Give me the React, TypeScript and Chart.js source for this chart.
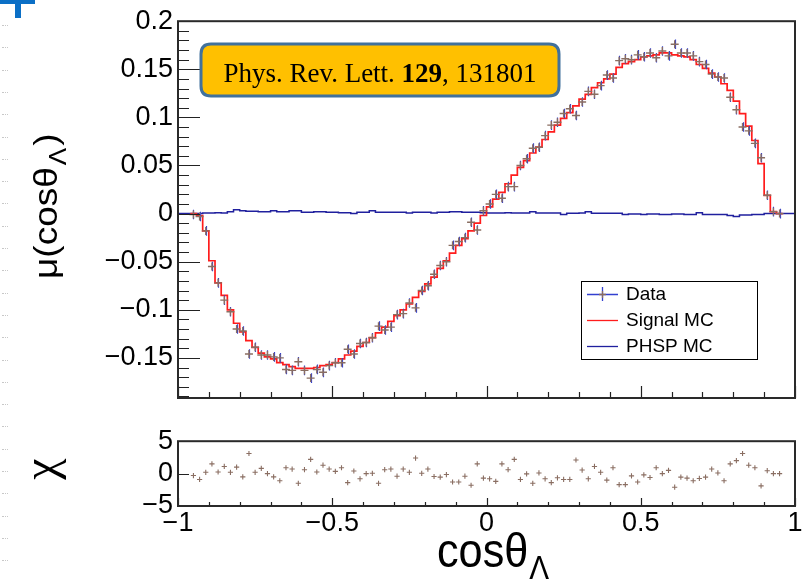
import React, { useEffect, useRef } from 'react';
import { Chart, registerables } from 'chart.js';

Chart.register(...registerables);

const FONT = '"Liberation Sans", Arial, Helvetica, sans-serif';
const SERIF = '"Liberation Serif", "Times New Roman", serif';

// ---- binning (histogram definition) ----
const muBinStart = -0.96; // data / signal MC / chi: 96 bins of 0.02
const phspBinStart = -1.0; // PHSP MC: 100 bins of 0.02
const binWidth = 0.02;

// ---- series values ----
const dataMu = [
  -0.001, -0.003, -0.018, -0.055, -0.072, -0.09, -0.102, -0.12, -0.122, -0.146,
  -0.139, -0.147, -0.147, -0.149, -0.15, -0.162, -0.163, -0.154, -0.163, -0.171,
  -0.162, -0.165, -0.158, -0.155, -0.155, -0.141, -0.146, -0.135, -0.134, -0.129,
  -0.117, -0.121, -0.118, -0.105, -0.104, -0.093, -0.098, -0.08, -0.075, -0.063,
  -0.054, -0.05, -0.033, -0.029, -0.025, -0.009, -0.017, 0.003, 0.01, 0.02,
  0.016, 0.028, 0.028, 0.05, 0.057, 0.068, 0.069, 0.081, 0.092, 0.095,
  0.104, 0.109, 0.102, 0.116, 0.127, 0.124, 0.133, 0.144, 0.141, 0.159,
  0.161, 0.16, 0.165, 0.163, 0.167, 0.162, 0.169, 0.164, 0.176, 0.167,
  0.167, 0.164, 0.158, 0.155, 0.145, 0.142, 0.141, 0.121, 0.108, 0.09,
  0.086, 0.073, 0.058, 0.019, 0.002, 0.0,
];
const dataErr = 0.005;

const signalMC = [
  0.0, -0.002, -0.018, -0.049, -0.072, -0.085, -0.1, -0.114, -0.123, -0.132,
  -0.139, -0.145, -0.149, -0.151, -0.155, -0.157, -0.159, -0.161, -0.161, -0.161,
  -0.16, -0.158, -0.157, -0.155, -0.151, -0.147, -0.143, -0.138, -0.134, -0.129,
  -0.124, -0.118, -0.112, -0.106, -0.1, -0.094, -0.087, -0.081, -0.073, -0.066,
  -0.057, -0.049, -0.041, -0.033, -0.026, -0.018, -0.01, -0.002, 0.007, 0.015,
  0.022, 0.031, 0.04, 0.048, 0.055, 0.063, 0.069, 0.077, 0.085, 0.092,
  0.099, 0.105, 0.112, 0.119, 0.124, 0.131, 0.136, 0.14, 0.145, 0.152,
  0.156, 0.158, 0.16, 0.163, 0.164, 0.165, 0.167, 0.167, 0.165, 0.164,
  0.163, 0.16, 0.155, 0.151, 0.146, 0.142, 0.135, 0.128, 0.117, 0.104,
  0.091, 0.076, 0.052, 0.019, 0.002, 0.0,
];

const phspMC = [
  0, 0, 0, 0, 0.0005, 0.0005, 0.001, 0.0005, 0.002, 0.004,
  0.003, 0.0025, 0.0025, 0.002, 0.002, 0.003, 0.002, 0.002, 0.003, 0.003,
  0.0015, 0.0015, 0.002, 0.002, 0.0015, 0.0015, 0.001, 0.001, 0.0, 0.0015,
  0.0015, 0.003, 0.0015, 0.0015, 0.0015, 0.0015, 0.0015, 0.0005, 0.0015, 0.0015,
  0.0015, 0.0005, 0.0015, 0.0015, 0.002, 0.002, 0.0015, 0.0015, 0.0015, 0.001,
  0.0005, 0.0005, 0.0005, 0.001, 0.0005, 0.0005, 0.0005, 0.002, 0.0005, 0.0005,
  0.0005, 0.0005, -0.001, 0.0003, 0.0003, 0.0005, 0.002, 0.0003, 0.0003, 0.0003,
  0.0003, 0.0003, -0.001, -0.0005, -0.0005, -0.001, -0.0005, -0.0005, -0.001, -0.001,
  -0.0005, -0.0005, -0.001, -0.001, 0.001, -0.001, -0.001, -0.001, -0.001, -0.002,
  -0.003, -0.0015, -0.0015, -0.001, -0.001, 0, 0, 0, 0, 0,
];

const chiValues = [
  -0.3, -0.9, 0.2, 1.5, 0.25, 1.1, 0.2, 1.0, -0.5, 3.1,
  0.2, 0.8, 0, -0.5, -1.1, 0.9, 0.7, -1.5, 0.6, 2.2,
  0.25, 1.3, 0.7, 0.35, 0.9, -1.4, 0.4, -0.8, 0, 0.05,
  -1.5, 0.6, 0.7, -0.4, 0.7, 0.2, 2.4, 0.05, 0.7, -0.45,
  -0.55, -0.15, -1.3, -1.3, -0.4, -1.8, 1.5, -0.7, -0.8, -1.2,
  1.5, 0.6, 2.2, -0.9, -0.05, -1.5, 0.1, -0.8, -1.4, -0.65,
  -0.9, -0.9, 2.1, 0.55, -0.8, 1.1, 0.2, -1.0, 0.9, -1.7,
  -1.7, -0.35, -1.3, -0.2, -0.6, 0.9, 0, 0.5, -2.1, -0.55,
  -0.7, -1.1, -0.75, -0.55, 0.7, 0.1, -1.1, 1.5, 2.0, 3.1,
  1.3, 0.9, -1.9, 0.45, 0, 0,
];

// ---- ticks / labels ----
const xTickValues = [-1, -0.5, 0, 0.5, 1];
const xTickLabels = ['\u22121', '\u22120.5', '0', '0.5', '1'];
const muTickValues = [-0.15, -0.1, -0.05, 0, 0.05, 0.1, 0.15, 0.2];
const muTickLabels = ['\u22120.15', '\u22120.1', '\u22120.05', '0', '0.05', '0.1', '0.15', '0.2'];
const chiTickValues = [-5, 0, 5];
const chiTickLabels = ['\u22125', '0', '5'];
const legendLabels = ['Data', 'Signal MC', 'PHSP MC'];
const refParts = ['Phys. Rev. Lett. ', '129', ', 131801'];

const muMin = -0.1917;
const muMax = 0.2;

// ---- colors ----
const C_DATA = '#8a6e62';
const C_ERR = '#3340d0';
const C_SIG = '#ff1c1c';
const C_PHSP = '#20209e';

// ---- helpers ----
const r4 = (v: number) => Math.round(v * 10000) / 10000;
const centers = (start: number, n: number) =>
  Array.from({ length: n }, (_, i) => r4(start + (i + 0.5) * binWidth));
const histPoints = (start: number, vals: number[]) => {
  const pts = vals.map((v, i) => ({ x: r4(start + i * binWidth), y: v }));
  pts.push({ x: r4(start + vals.length * binWidth), y: vals[vals.length - 1] });
  return pts;
};
const range = (a: number, b: number, step: number) => {
  const out: number[] = [];
  const n = Math.round((b - a) / step);
  for (let i = 0; i <= n; i++) out.push(r4(a + i * step));
  return out;
};

const dataX = centers(muBinStart, dataMu.length);

function framePlugin(cfg: any) {
  return {
    id: 'rootFrame',
    afterDatasetsDraw(chart: any) {
      const { ctx, chartArea: a } = chart;
      const xs = chart.scales.x;
      const ys = chart.scales.y;
      ctx.save();
      ctx.strokeStyle = '#222';
      ctx.lineWidth = 1.2;
      ctx.beginPath();
      const xt = (vals: number[], len: number) =>
        vals.forEach((v) => {
          const px = Math.round(xs.getPixelForValue(v)) + 0.5;
          ctx.moveTo(px, a.bottom);
          ctx.lineTo(px, a.bottom - len);
        });
      const yt = (vals: number[], len: number) =>
        vals.forEach((v) => {
          if (v < ys.min - 1e-9 || v > ys.max + 1e-9) return;
          const py = Math.round(ys.getPixelForValue(v)) + 0.5;
          ctx.moveTo(a.left, py);
          ctx.lineTo(a.left + len, py);
        });
      xt(cfg.xMinor, cfg.xMinorLen);
      xt(cfg.xMajor, cfg.xMajorLen);
      yt(cfg.yMinor, cfg.yMinorLen);
      yt(cfg.yMajor, cfg.yMajorLen);
      ctx.stroke();
      ctx.lineWidth = 2;
      ctx.strokeStyle = '#2a2a2a';
      ctx.strokeRect(a.left, a.top, a.right - a.left, a.bottom - a.top);
      ctx.restore();
    },
  };
}

function roundRectPath(ctx: any, x: number, y: number, w: number, h: number, r: number) {
  ctx.beginPath();
  ctx.moveTo(x + r, y);
  ctx.lineTo(x + w - r, y);
  ctx.quadraticCurveTo(x + w, y, x + w, y + r);
  ctx.lineTo(x + w, y + h - r);
  ctx.quadraticCurveTo(x + w, y + h, x + w - r, y + h);
  ctx.lineTo(x + r, y + h);
  ctx.quadraticCurveTo(x, y + h, x, y + h - r);
  ctx.lineTo(x, y + r);
  ctx.quadraticCurveTo(x, y, x + r, y);
  ctx.closePath();
}

const topDecor = {
  id: 'topDecor',
  beforeDatasetDraw(chart: any, args: any) {
    if (args.index !== 0) return;
    const { ctx } = chart;
    const xs = chart.scales.x;
    const ys = chart.scales.y;
    ctx.save();
    ctx.strokeStyle = C_ERR;
    ctx.lineWidth = 1.2;
    ctx.beginPath();
    dataMu.forEach((v, i) => {
      const px = Math.round(xs.getPixelForValue(dataX[i])) + 0.5;
      ctx.moveTo(px, ys.getPixelForValue(v + dataErr));
      ctx.lineTo(px, ys.getPixelForValue(v - dataErr));
    });
    ctx.stroke();
    ctx.restore();
  },
  afterDraw(chart: any) {
    const { ctx } = chart;
    ctx.save();
    // reference box
    roundRectPath(ctx, 201, 44, 358, 52, 10);
    ctx.fillStyle = '#ffc000';
    ctx.fill();
    ctx.lineWidth = 3;
    ctx.strokeStyle = '#41719c';
    ctx.stroke();
    ctx.fillStyle = '#000';
    ctx.textBaseline = 'alphabetic';
    const fonts = [`27px ${SERIF}`, `bold 27px ${SERIF}`, `27px ${SERIF}`];
    let total = 0;
    refParts.forEach((p, i) => {
      ctx.font = fonts[i];
      total += ctx.measureText(p).width;
    });
    let tx = 380 - total / 2;
    refParts.forEach((p, i) => {
      ctx.font = fonts[i];
      ctx.fillText(p, tx, 82);
      tx += ctx.measureText(p).width;
    });

    // legend
    const lx = 581.5, ly = 281.5, lw = 176, lh = 78;
    ctx.fillStyle = '#fff';
    ctx.fillRect(lx, ly, lw, lh);
    ctx.strokeStyle = '#000';
    ctx.lineWidth = 1;
    ctx.strokeRect(lx, ly, lw, lh);
    const rows = [294, 320, 346];
    const colors = [C_ERR, C_SIG, C_PHSP];
    rows.forEach((ry, i) => {
      ctx.strokeStyle = colors[i];
      ctx.lineWidth = 1.3;
      ctx.beginPath();
      ctx.moveTo(587, ry + 0.5);
      ctx.lineTo(618, ry + 0.5);
      if (i === 0) {
        ctx.moveTo(602.5, ry - 7);
        ctx.lineTo(602.5, ry + 7);
      }
      ctx.stroke();
      if (i === 0) {
        ctx.strokeStyle = C_DATA;
        ctx.beginPath();
        ctx.moveTo(599, ry + 0.5);
        ctx.lineTo(606, ry + 0.5);
        ctx.moveTo(602.5, ry - 3);
        ctx.lineTo(602.5, ry + 4);
        ctx.stroke();
      }
      ctx.fillStyle = '#000';
      ctx.font = `19px ${FONT}`;
      ctx.textBaseline = 'middle';
      ctx.fillText(legendLabels[i], 626, ry + 1);
    });

    // y title  mu(cos theta_Lambda)
    ctx.translate(57, 279);
    ctx.rotate(-Math.PI / 2);
    ctx.scale(1, 0.92);
    ctx.fillStyle = '#000';
    ctx.textBaseline = 'alphabetic';
    ctx.font = `37px ${FONT}`;
    ctx.fillText('\u03bc(cos\u03b8', 0, 0);
    let w = ctx.measureText('\u03bc(cos\u03b8').width;
    ctx.font = `26px ${FONT}`;
    ctx.fillText('\u039b', w + 2, 10);
    w += ctx.measureText('\u039b').width + 4;
    ctx.font = `37px ${FONT}`;
    ctx.fillText(')', w, 0);
    ctx.restore();
  },
};

const bottomDecor = {
  id: 'bottomDecor',
  afterDraw(chart: any) {
    const { ctx } = chart;
    ctx.save();
    ctx.fillStyle = '#000';
    ctx.textBaseline = 'alphabetic';
    // x title cos theta_Lambda
    ctx.save();
    ctx.translate(437, 147);
    ctx.scale(0.9, 1);
    ctx.font = `48px ${FONT}`;
    ctx.fillText('cos\u03b8', 0, 0);
    const w = ctx.measureText('cos\u03b8').width;
    ctx.font = `33px ${FONT}`;
    ctx.fillText('\u039b', w + 1, 12);
    ctx.restore();
    // chi title
    ctx.save();
    ctx.translate(56, 49);
    ctx.rotate(-Math.PI / 2);
    ctx.font = `48px ${SERIF}`;
    const cw = ctx.measureText('\u03c7').width;
    ctx.fillText('\u03c7', -cw / 2, 0);
    ctx.restore();
    ctx.restore();
  },
};

function fixedWidth(w: number) {
  return (s: any) => {
    s.width = w;
  };
}
function fixedHeight(h: number) {
  return (s: any) => {
    s.height = h;
  };
}

const tickFont = { family: FONT, size: 27 };

export default function App() {
  const topRef = useRef<HTMLCanvasElement>(null);
  const botRef = useRef<HTMLCanvasElement>(null);

  useEffect(() => {
    const top = new Chart(topRef.current as HTMLCanvasElement, {
      type: 'line',
      data: {
        datasets: [
          {
            type: 'scatter',
            label: legendLabels[0],
            data: dataMu.map((v, i) => ({ x: dataX[i], y: v })),
            pointStyle: 'cross',
            pointRadius: 4,
            borderColor: C_DATA,
            backgroundColor: C_DATA,
            borderWidth: 1.4,
            showLine: false,
          } as any,
          {
            label: legendLabels[1],
            data: histPoints(muBinStart, signalMC),
            stepped: true,
            borderColor: C_SIG,
            borderWidth: 1.7,
            pointRadius: 0,
            fill: false,
          },
          {
            label: legendLabels[2],
            data: histPoints(phspBinStart, phspMC),
            stepped: true,
            borderColor: C_PHSP,
            borderWidth: 1.5,
            pointRadius: 0,
            fill: false,
          },
        ],
      },
      options: {
        responsive: false,
        animation: false,
        layout: { padding: { left: 0, top: 17, right: 13, bottom: 0 } },
        plugins: { legend: { display: false }, tooltip: { enabled: false } },
        scales: {
          x: {
            type: 'linear',
            min: -1,
            max: 1,
            grid: { display: false, drawTicks: false },
            border: { display: false },
            ticks: { display: false },
            afterFit: fixedHeight(22),
          },
          y: {
            type: 'linear',
            min: muMin,
            max: muMax,
            grid: { display: false, drawTicks: false },
            border: { display: false },
            afterBuildTicks: (s: any) => {
              s.ticks = muTickValues.map((v) => ({ value: v }));
            },
            ticks: {
              font: tickFont,
              color: '#000',
              padding: 5,
              autoSkip: false,
              callback: (v: any) => {
                const i = muTickValues.findIndex((t) => Math.abs(t - v) < 1e-6);
                return i >= 0 ? muTickLabels[i] : '';
              },
            },
            afterFit: fixedWidth(178),
          },
        },
      } as any,
      plugins: [
        framePlugin({
          xMinor: range(-1, 1, 0.1),
          xMajor: xTickValues,
          xMinorLen: 6,
          xMajorLen: 12,
          yMinor: range(-0.19, 0.2, 0.01),
          yMajor: muTickValues,
          yMinorLen: 11,
          yMajorLen: 22,
        }),
        topDecor,
      ],
    });

    const bot = new Chart(botRef.current as HTMLCanvasElement, {
      type: 'scatter',
      data: {
        datasets: [
          {
            label: '\u03c7',
            data: chiValues.map((v, i) => ({ x: dataX[i], y: v })),
            pointStyle: 'cross',
            pointRadius: 2.6,
            borderColor: C_DATA,
            borderWidth: 1.1,
          },
        ],
      },
      options: {
        responsive: false,
        animation: false,
        layout: { padding: { left: 0, top: 14, right: 13, bottom: 0 } },
        plugins: { legend: { display: false }, tooltip: { enabled: false } },
        scales: {
          x: {
            type: 'linear',
            min: -1,
            max: 1,
            grid: { display: false, drawTicks: false },
            border: { display: false },
            afterBuildTicks: (s: any) => {
              s.ticks = xTickValues.map((v) => ({ value: v }));
            },
            ticks: {
              font: tickFont,
              color: '#000',
              padding: 1,
              autoSkip: false,
              maxRotation: 0,
              minRotation: 0,
              callback: (v: any) => {
                const i = xTickValues.findIndex((t) => Math.abs(t - v) < 1e-6);
                return i >= 0 ? xTickLabels[i] : '';
              },
            },
            afterFit: fixedHeight(80),
          },
          y: {
            type: 'linear',
            min: -5,
            max: 5,
            grid: { display: false, drawTicks: false },
            border: { display: false },
            afterBuildTicks: (s: any) => {
              s.ticks = chiTickValues.map((v) => ({ value: v }));
            },
            ticks: {
              font: tickFont,
              color: '#000',
              padding: 5,
              autoSkip: false,
              callback: (v: any) => {
                const i = chiTickValues.findIndex((t) => Math.abs(t - v) < 1e-6);
                return i >= 0 ? chiTickLabels[i] : '';
              },
            },
            afterFit: fixedWidth(178),
          },
        },
      } as any,
      plugins: [
        framePlugin({
          xMinor: range(-1, 1, 0.1),
          xMajor: xTickValues,
          xMinorLen: 4,
          xMajorLen: 8,
          yMinor: [],
          yMajor: chiTickValues,
          yMinorLen: 0,
          yMajorLen: 11,
        }),
        bottomDecor,
      ],
    });

    return () => {
      top.destroy();
      bot.destroy();
    };
  }, []);

  const dots = Array.from({ length: 25 }, (_, k) => 25 + k * 22.3);

  return (
    <div style={{ position: 'absolute', left: 0, top: 0, width: 808, height: 586, background: '#fff', overflow: 'hidden' }}>
      <canvas ref={topRef} width={808} height={420} style={{ position: 'absolute', left: 0, top: 0 }} />
      <canvas ref={botRef} width={808} height={166} style={{ position: 'absolute', left: 0, top: 420 }} />
      <div style={{ position: 'absolute', left: 0, top: 0, width: 35, height: 4, background: '#0b6fc6' }} />
      <div style={{ position: 'absolute', left: 15, top: 0, width: 6, height: 18, background: '#0b6fc6' }} />
      {dots.map((y, k) => (
        <div key={k} style={{ position: 'absolute', left: 2, top: Math.round(y), width: 6, height: 1, borderTop: '1px dotted #c8c8c8' }} />
      ))}
    </div>
  );
}
